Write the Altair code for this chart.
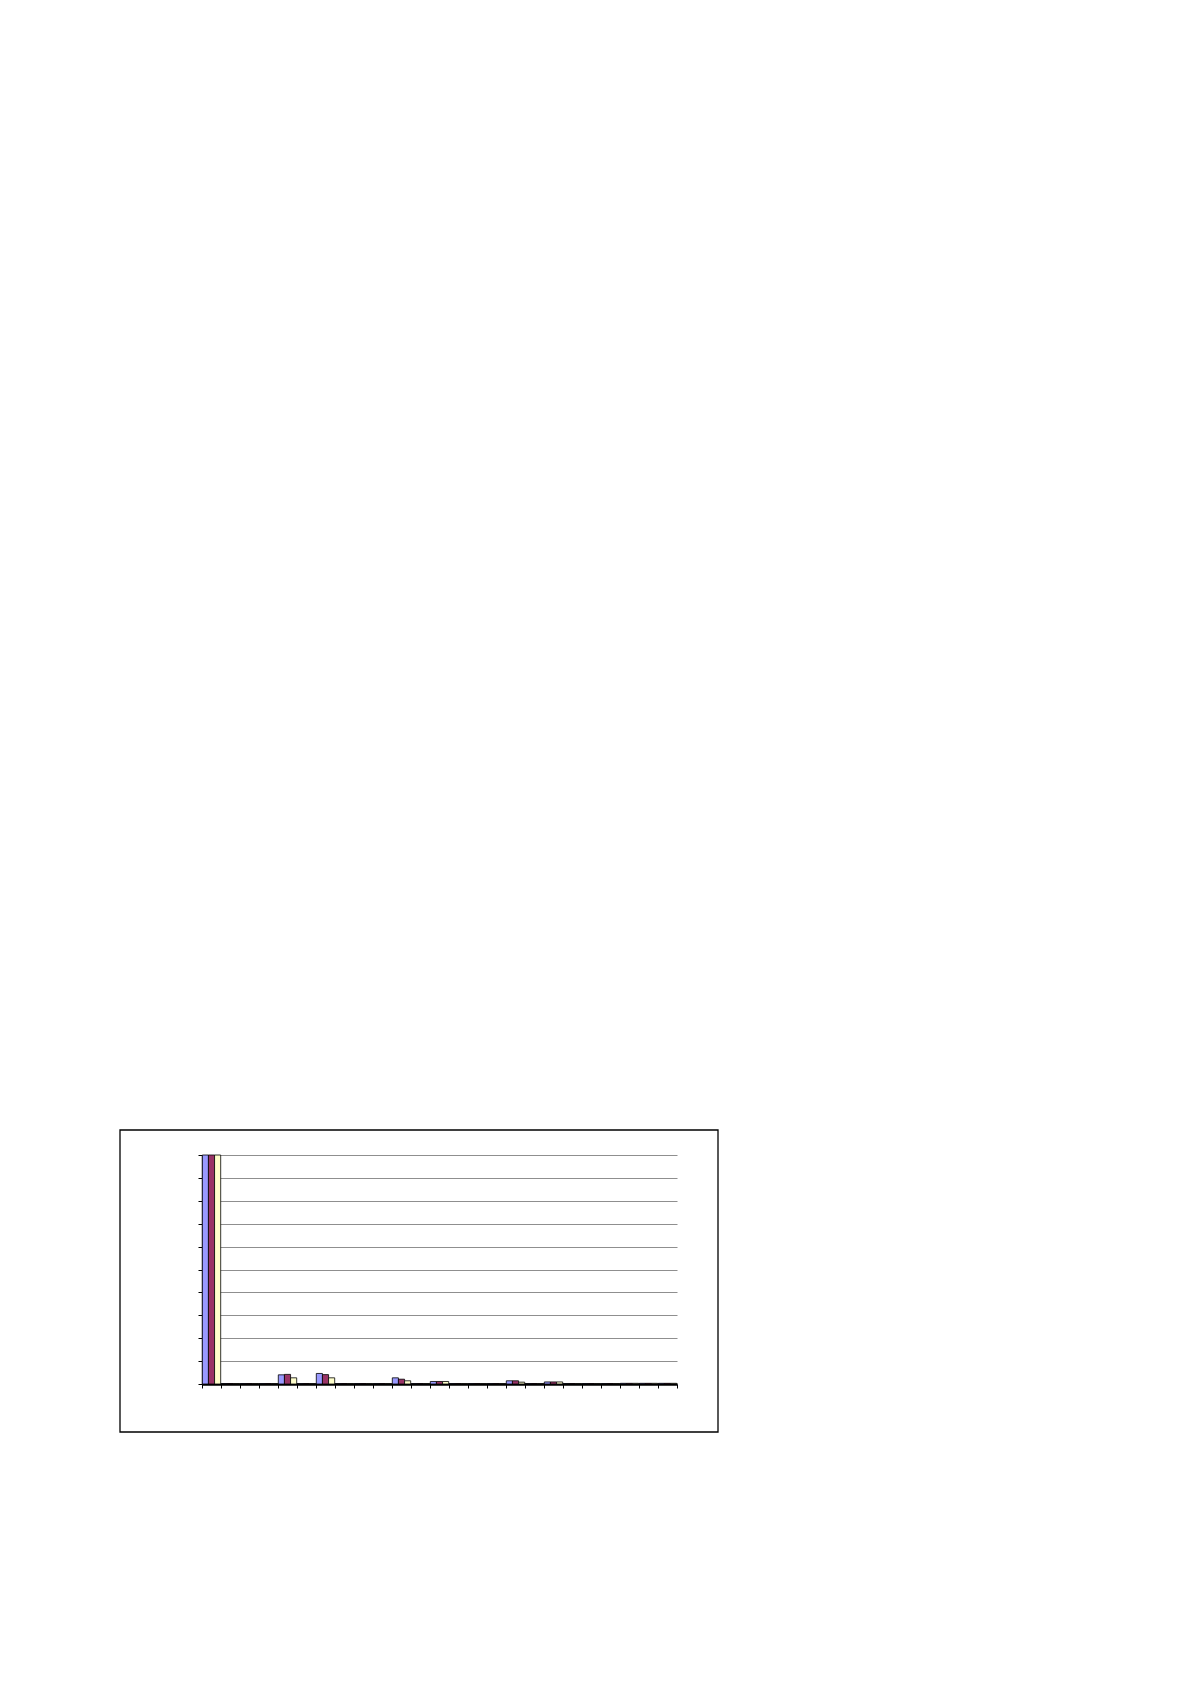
import altair as alt
import pandas as pd

# 25 categories (labels are not shown in the reference)
categories = [f"C{i}" for i in range(1, 26)]
series_names = ["Serie 1", "Serie 2", "Serie 3"]

serie1 = [100, 0.2, 0.2, 0.2, 4.0, 0.2, 4.6, 0.2, 0.2, 0.2, 2.7, 0.2, 1.1,
          0.2, 0.2, 0.2, 1.4, 0.2, 0.9, 0.2, 0.2, 0.2, 0.3, 0.3, 0.3]
serie2 = [100, 0.2, 0.2, 0.2, 4.2, 0.2, 4.1, 0.2, 0.2, 0.2, 2.1, 0.2, 1.1,
          0.2, 0.2, 0.2, 1.4, 0.2, 0.9, 0.2, 0.2, 0.2, 0.3, 0.3, 0.3]
serie3 = [100, 0.2, 0.2, 0.2, 2.7, 0.2, 2.7, 0.2, 0.2, 0.2, 1.4, 0.2, 1.1,
          0.2, 0.2, 0.2, 0.8, 0.2, 0.9, 0.2, 0.2, 0.2, 0.3, 0.3, 0.3]

colors = ["#9999FF", "#993366", "#FFFFCC"]
y_ticks = [0, 10, 20, 30, 40, 50, 60, 70, 80, 90, 100]

rows = []
for s, vals in zip(series_names, [serie1, serie2, serie3]):
    for c, v in zip(categories, vals):
        rows.append({"cat": c, "serie": s, "value": v})
df = pd.DataFrame(rows)

W, H = 475, 229

bars = alt.Chart(df).mark_bar(stroke="black", strokeWidth=0.8).encode(
    x=alt.X("cat:N", sort=categories,
            scale=alt.Scale(paddingInner=0, paddingOuter=0),
            axis=alt.Axis(labels=False, title=None, ticks=True, tickSize=4,
                          tickColor="black", tickBand="extent",
                          domainColor="black", domainWidth=2.5, grid=False)),
    xOffset=alt.XOffset("serie:N", sort=series_names,
                        scale=alt.Scale(paddingInner=0, paddingOuter=0.05)),
    y=alt.Y("value:Q", scale=alt.Scale(domain=[0, 100], nice=False),
            axis=alt.Axis(labels=False, title=None, values=y_ticks,
                          ticks=True, tickSize=4, tickColor="black",
                          domainColor="black", domainWidth=1.2,
                          grid=True, gridColor="#8f8f8f", gridWidth=1)),
    color=alt.Color("serie:N", sort=series_names,
                    scale=alt.Scale(domain=series_names, range=colors),
                    legend=None),
)

frame = alt.Chart(alt.Data(values=[{}])).mark_rect(
    fill=None, stroke="black", strokeWidth=1.3
).encode(
    x=alt.value(-82), x2=alt.value(516), y=alt.value(-25), y2=alt.value(277)
)

chart = alt.layer(bars, frame).properties(
    width=W, height=H,
    autosize=alt.AutoSizeParams(type="none"),
    padding={"left": 194, "top": 1147, "right": 80, "bottom": 80},
).configure_view(strokeWidth=0)

chart.save("out.html", embed_options={"renderer": "svg", "actions": False})
